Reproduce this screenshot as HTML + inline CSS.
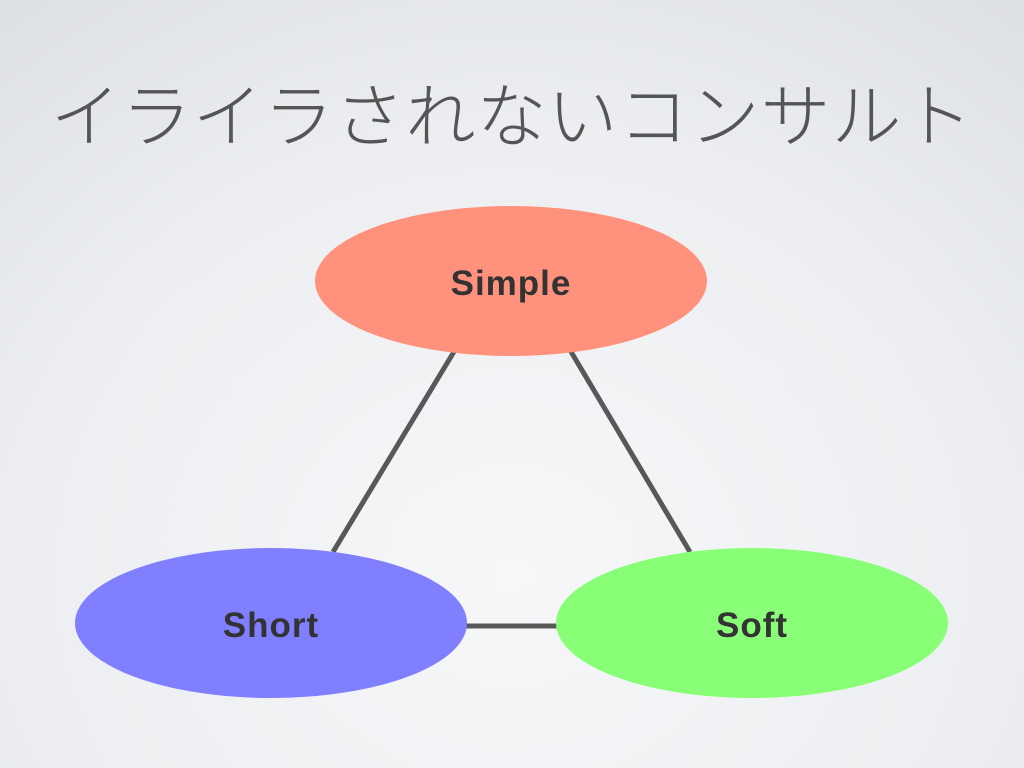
<!DOCTYPE html>
<html>
<head>
<meta charset="utf-8">
<style>
html,body{margin:0;padding:0;}
body{width:1024px;height:768px;overflow:hidden;
background:radial-gradient(ellipse 900px 800px at 50% 75%, #f7f7f9 0%, #eceef1 55%, #d9dce1 100%);}
.title{position:absolute;left:0;top:72px;width:1024px;text-align:center;
font-family:"Liberation Sans","Noto Sans CJK JP",sans-serif;font-size:70px;color:#555;letter-spacing:1px;line-height:90px;font-weight:300;}
svg{position:absolute;left:0;top:0;}
</style>
</head>
<body>
<div class="title">イライラされないコンサルト</div>
<svg width="1024" height="768" xmlns="http://www.w3.org/2000/svg">
<g stroke="#585858" stroke-width="5" fill="none">
<line x1="455" y1="350" x2="333" y2="552"/>
<line x1="570" y1="350" x2="690" y2="552"/>
<line x1="465" y1="626" x2="558" y2="626"/>
</g>
<ellipse cx="511" cy="281" rx="196" ry="75" fill="#ff917d"/>
<ellipse cx="271" cy="623" rx="196" ry="75" fill="#7f7fff"/>
<ellipse cx="752" cy="623" rx="196" ry="75" fill="#88ff77"/>
<g font-family="Liberation Sans, sans-serif" font-weight="bold" font-size="35" fill="#333" text-anchor="middle" letter-spacing="1">
<text x="511" y="295">Simple</text>
<text x="271" y="637">Short</text>
<text x="752" y="637">Soft</text>
</g>
</svg>
</body>
</html>
